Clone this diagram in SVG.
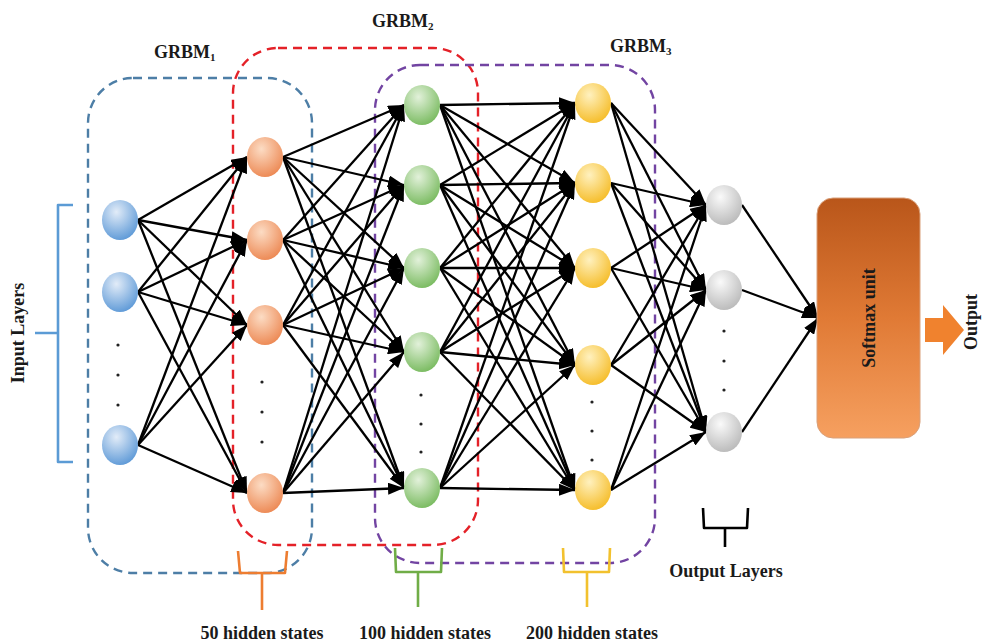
<svg xmlns="http://www.w3.org/2000/svg" width="982" height="644" viewBox="0 0 982 644">
<style>
.lbl{font-family:"Liberation Serif","Times New Roman",serif;font-weight:bold;font-size:18px;fill:#1a1a1a}
.box{fill:none;stroke-width:2.4;stroke-dasharray:9 6}
.cn line{stroke:#000;stroke-width:2.3;marker-end:url(#ah)}
.brace{fill:none;stroke-width:2.6;stroke-linejoin:round}
.dot{fill:#222}
</style>
<defs>
<marker id="ah" markerUnits="userSpaceOnUse" markerWidth="16" markerHeight="12" refX="16" refY="6" orient="auto">
<path d="M0,0 L16,6 L0,12 z" fill="#000"/>
</marker>
<radialGradient id="gB" cx="40%" cy="30%" r="75%"><stop offset="0" stop-color="#e2ecf8"/><stop offset="1" stop-color="#5a97d6"/></radialGradient>
<radialGradient id="gO" cx="40%" cy="30%" r="75%"><stop offset="0" stop-color="#fcdcc4"/><stop offset="1" stop-color="#ec8650"/></radialGradient>
<radialGradient id="gG" cx="40%" cy="30%" r="75%"><stop offset="0" stop-color="#e2f1da"/><stop offset="1" stop-color="#76b95c"/></radialGradient>
<radialGradient id="gY" cx="40%" cy="30%" r="75%"><stop offset="0" stop-color="#fff1bf"/><stop offset="1" stop-color="#f5bb24"/></radialGradient>
<radialGradient id="gR" cx="40%" cy="30%" r="75%"><stop offset="0" stop-color="#fafafa"/><stop offset="1" stop-color="#b8b8b8"/></radialGradient>
<linearGradient id="gS" x1="0" y1="0" x2="0" y2="1"><stop offset="0" stop-color="#b9561a"/><stop offset="0.5" stop-color="#e07a35"/><stop offset="1" stop-color="#f6a060"/></linearGradient>
</defs>

<g id="boxes">
<rect class="box" x="88" y="78" width="224" height="495" rx="45" stroke="#4d7ea6"/>
<rect class="box" x="233" y="48" width="245" height="497" rx="45" stroke="#e42128"/>
<rect class="box" x="375" y="65" width="280" height="498" rx="45" stroke="#7244a2"/>
</g>

<g id="connectors" class="cn">
<line x1="138" y1="220" x2="247" y2="157"/><line x1="138" y1="220" x2="247" y2="240"/><line x1="138" y1="220" x2="247" y2="325"/><line x1="138" y1="220" x2="247" y2="493"/>
<line x1="138" y1="292" x2="247" y2="157"/><line x1="138" y1="292" x2="247" y2="240"/><line x1="138" y1="292" x2="247" y2="325"/><line x1="138" y1="292" x2="247" y2="493"/>
<line x1="138" y1="445" x2="247" y2="157"/><line x1="138" y1="445" x2="247" y2="240"/><line x1="138" y1="445" x2="247" y2="325"/><line x1="138" y1="445" x2="247" y2="493"/>
<line x1="283" y1="157" x2="404" y2="105"/><line x1="283" y1="157" x2="404" y2="185"/><line x1="283" y1="157" x2="404" y2="268"/><line x1="283" y1="157" x2="404" y2="352"/><line x1="283" y1="157" x2="404" y2="488"/>
<line x1="283" y1="240" x2="404" y2="105"/><line x1="283" y1="240" x2="404" y2="185"/><line x1="283" y1="240" x2="404" y2="268"/><line x1="283" y1="240" x2="404" y2="352"/><line x1="283" y1="240" x2="404" y2="488"/>
<line x1="283" y1="325" x2="404" y2="105"/><line x1="283" y1="325" x2="404" y2="185"/><line x1="283" y1="325" x2="404" y2="268"/><line x1="283" y1="325" x2="404" y2="352"/><line x1="283" y1="325" x2="404" y2="488"/>
<line x1="283" y1="493" x2="404" y2="105"/><line x1="283" y1="493" x2="404" y2="185"/><line x1="283" y1="493" x2="404" y2="268"/><line x1="283" y1="493" x2="404" y2="352"/><line x1="283" y1="493" x2="404" y2="488"/>
<line x1="440" y1="105" x2="575" y2="103"/><line x1="440" y1="105" x2="575" y2="183"/><line x1="440" y1="105" x2="575" y2="268"/><line x1="440" y1="105" x2="575" y2="365"/><line x1="440" y1="105" x2="575" y2="490"/>
<line x1="440" y1="185" x2="575" y2="103"/><line x1="440" y1="185" x2="575" y2="183"/><line x1="440" y1="185" x2="575" y2="268"/><line x1="440" y1="185" x2="575" y2="365"/><line x1="440" y1="185" x2="575" y2="490"/>
<line x1="440" y1="268" x2="575" y2="103"/><line x1="440" y1="268" x2="575" y2="183"/><line x1="440" y1="268" x2="575" y2="268"/><line x1="440" y1="268" x2="575" y2="365"/><line x1="440" y1="268" x2="575" y2="490"/>
<line x1="440" y1="352" x2="575" y2="103"/><line x1="440" y1="352" x2="575" y2="183"/><line x1="440" y1="352" x2="575" y2="268"/><line x1="440" y1="352" x2="575" y2="365"/><line x1="440" y1="352" x2="575" y2="490"/>
<line x1="440" y1="488" x2="575" y2="103"/><line x1="440" y1="488" x2="575" y2="183"/><line x1="440" y1="488" x2="575" y2="268"/><line x1="440" y1="488" x2="575" y2="365"/><line x1="440" y1="488" x2="575" y2="490"/>
<line x1="611" y1="103" x2="706" y2="205"/><line x1="611" y1="103" x2="706" y2="290"/><line x1="611" y1="103" x2="706" y2="432"/>
<line x1="611" y1="183" x2="706" y2="205"/><line x1="611" y1="183" x2="706" y2="290"/><line x1="611" y1="183" x2="706" y2="432"/>
<line x1="611" y1="268" x2="706" y2="205"/><line x1="611" y1="268" x2="706" y2="290"/><line x1="611" y1="268" x2="706" y2="432"/>
<line x1="611" y1="365" x2="706" y2="205"/><line x1="611" y1="365" x2="706" y2="290"/><line x1="611" y1="365" x2="706" y2="432"/>
<line x1="611" y1="490" x2="706" y2="205"/><line x1="611" y1="490" x2="706" y2="290"/><line x1="611" y1="490" x2="706" y2="432"/>
<line x1="742" y1="205" x2="818" y2="318"/><line x1="742" y1="290" x2="818" y2="318"/><line x1="742" y1="432" x2="818" y2="318"/>
</g>

<g id="input-layer">
<ellipse cx="120" cy="220" rx="18" ry="20" fill="url(#gB)"/>
<ellipse cx="120" cy="292" rx="18" ry="20" fill="url(#gB)"/>
<ellipse cx="120" cy="445" rx="18" ry="20" fill="url(#gB)"/>
<circle class="dot" cx="118" cy="345" r="1.6"/><circle class="dot" cx="118" cy="375" r="1.6"/><circle class="dot" cx="118" cy="405" r="1.6"/>
</g>
<g id="hidden-1">
<ellipse cx="265" cy="157" rx="18" ry="20" fill="url(#gO)"/>
<ellipse cx="265" cy="240" rx="18" ry="20" fill="url(#gO)"/>
<ellipse cx="265" cy="325" rx="18" ry="20" fill="url(#gO)"/>
<ellipse cx="265" cy="493" rx="18" ry="20" fill="url(#gO)"/>
<circle class="dot" cx="262" cy="382" r="1.6"/><circle class="dot" cx="262" cy="412" r="1.6"/><circle class="dot" cx="262" cy="442" r="1.6"/>
</g>
<g id="hidden-2">
<ellipse cx="422" cy="105" rx="18" ry="20" fill="url(#gG)"/>
<ellipse cx="422" cy="185" rx="18" ry="20" fill="url(#gG)"/>
<ellipse cx="422" cy="268" rx="18" ry="20" fill="url(#gG)"/>
<ellipse cx="422" cy="352" rx="18" ry="20" fill="url(#gG)"/>
<ellipse cx="422" cy="488" rx="18" ry="20" fill="url(#gG)"/>
<circle class="dot" cx="421" cy="395" r="1.6"/><circle class="dot" cx="421" cy="424" r="1.6"/><circle class="dot" cx="421" cy="452" r="1.6"/>
</g>
<g id="hidden-3">
<ellipse cx="593" cy="103" rx="18" ry="20" fill="url(#gY)"/>
<ellipse cx="593" cy="183" rx="18" ry="20" fill="url(#gY)"/>
<ellipse cx="593" cy="268" rx="18" ry="20" fill="url(#gY)"/>
<ellipse cx="593" cy="365" rx="18" ry="20" fill="url(#gY)"/>
<ellipse cx="593" cy="490" rx="18" ry="20" fill="url(#gY)"/>
<circle class="dot" cx="592" cy="402" r="1.6"/><circle class="dot" cx="592" cy="431" r="1.6"/><circle class="dot" cx="592" cy="460" r="1.6"/>
</g>
<g id="output-layer">
<ellipse cx="724" cy="205" rx="18" ry="20" fill="url(#gR)"/>
<ellipse cx="724" cy="290" rx="18" ry="20" fill="url(#gR)"/>
<ellipse cx="724" cy="432" rx="18" ry="20" fill="url(#gR)"/>
<circle class="dot" cx="724" cy="331" r="1.6"/><circle class="dot" cx="724" cy="361" r="1.6"/><circle class="dot" cx="724" cy="390" r="1.6"/>
</g>

<g id="softmax">
<rect x="817" y="198" width="103" height="240" rx="16" fill="url(#gS)" stroke="#d9a07a" stroke-width="1"/>
<text class="lbl" transform="translate(875,318) rotate(-90)" text-anchor="middle" font-size="19">Softmax unit</text>
</g>
<g id="output">
<path d="M925,318 L943,318 L943,305 L964,330 L943,355 L943,342 L925,342 z" fill="#f0822e"/>
<text class="lbl" transform="translate(977,322) rotate(-90)" text-anchor="middle" font-size="17">Output</text>
</g>

<g id="braces">
<path class="brace" stroke="#5b9bd5" d="M73,205 L58,205 L58,462 L73,462 M58,333 L35,333"/>
<path class="brace" stroke="#ed7d31" d="M238,551 L240,573 L285,573 L287,551 M262,573 L262,610"/>
<path class="brace" stroke="#70ad47" d="M395,548 L396,572 L441,572 L442,548 M418,572 L418,607"/>
<path class="brace" stroke="#f2c12e" d="M563,548 L564,572 L609,572 L610,548 M587,572 L587,607"/>
<path class="brace" stroke="#000" d="M703,508 L704,528 L747,528 L748,508 M725,528 L725,547"/>
</g>

<g id="labels">
<text class="lbl" x="154" y="58" font-size="17">GRBM<tspan font-size="11" dy="3">1</tspan></text>
<text class="lbl" x="372" y="27" font-size="17">GRBM<tspan font-size="11" dy="3">2</tspan></text>
<text class="lbl" x="610" y="52" font-size="17">GRBM<tspan font-size="11" dy="3">3</tspan></text>
<text class="lbl" transform="translate(24,333) rotate(-90)" text-anchor="middle">Input Layers</text>
<text class="lbl" x="262" y="639" text-anchor="middle">50 hidden states</text>
<text class="lbl" x="425" y="639" text-anchor="middle">100 hidden states</text>
<text class="lbl" x="592" y="639" text-anchor="middle">200 hidden states</text>
<text class="lbl" x="726" y="577" text-anchor="middle">Output Layers</text>
</g>
</svg>
